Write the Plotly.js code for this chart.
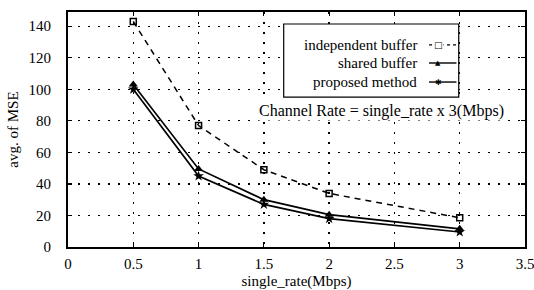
<!DOCTYPE html>
<html><head><meta charset="utf-8">
<script src="https://cdn.plot.ly/plotly-3.0.1.min.js"></script>
<style>html,body{margin:0;padding:0;background:#fff}#c{width:534px;height:290px}</style>
</head><body><div id="c"></div>
<script>
const rates = [0.5, 1, 1.5, 2, 3];
const independentBuffer = [143, 77, 49, 34, 18.5];
const sharedBuffer = [103, 49.5, 30, 20.5, 11.5];
const proposedMethod = [100, 45, 27, 18, 9.5];
const seriesNames = ['independent buffer', 'shared buffer', 'proposed method'];
const xTicks = [0, 0.5, 1, 1.5, 2, 2.5, 3, 3.5];
const yTicks = [0, 20, 40, 60, 80, 100, 120, 140];
const noteText = 'Channel Rate = single_rate x 3(Mbps)';

const F = 'Liberation Serif';
const traces = [
  {x: rates, y: independentBuffer, name: seriesNames[0], mode: 'lines+markers',
   line: {color: '#000', width: 1.5, dash: '6px,5px'},
   marker: {symbol: 'square-open', size: 6, color: '#000', line: {width: 1.5}}},
  {x: rates, y: sharedBuffer, name: seriesNames[1], mode: 'lines+markers',
   line: {color: '#000', width: 1.7},
   marker: {symbol: 'triangle-up', size: 8, color: '#000'}},
  {x: rates, y: proposedMethod, name: seriesNames[2], mode: 'lines+markers',
   line: {color: '#000', width: 1.7},
   marker: {symbol: 'star', size: 8, color: '#000'}}
];

const axisCommon = {
  showline: true, linecolor: '#000', linewidth: 2, mirror: 'ticks',
  ticks: 'inside', ticklen: 4, tickcolor: '#000', tickwidth: 1.2,
  showgrid: true, gridcolor: '#000', gridwidth: 1.3, griddash: '2px,8px',
  zeroline: false, tickfont: {family: F, size: 15, color: '#000'}, ticklabeloverflow: 'allow'
};

// custom legend (text left, sample right), in paper coords
const legX0 = 0.472, legX1 = 0.855, legY0 = 0.638, legY1 = 0.949;
const rowY = [0.86, 0.783, 0.702];
const sampleX0 = 0.79, sampleX1 = 0.85, textX = 0.768, markX = 0.81;
const shapes = [{type: 'rect', xref: 'paper', yref: 'paper', x0: legX0, x1: legX1, y0: legY0, y1: legY1,
  line: {color: '#000', width: 1.2}, fillcolor: '#fff', layer: 'above'}];
const annotations = [];
const sym = ['□', '▲', '✱'];
const symSize = [9, 7, 8];
const dashes = ['3px,3px', 'solid', 'solid'];
seriesNames.forEach((n, i) => {
  annotations.push({xref: 'paper', yref: 'paper', x: textX, y: rowY[i], text: n, showarrow: false,
    xanchor: 'right', yanchor: 'middle', font: {family: F, size: 15, color: '#000'}});
  shapes.push({type: 'line', xref: 'paper', yref: 'paper', x0: sampleX0, x1: sampleX1, y0: rowY[i], y1: rowY[i],
    line: {color: '#000', width: 1.4, dash: dashes[i]}, layer: 'above'});
  annotations.push({xref: 'paper', yref: 'paper', x: markX, y: rowY[i], text: sym[i], showarrow: false,
    xanchor: 'center', yanchor: 'middle', bgcolor: i === 0 ? '#fff' : 'rgba(0,0,0,0)', borderpad: 0,
    font: {family: 'DejaVu Sans', size: symSize[i], color: '#000'}});
});
annotations.push({xref: 'paper', yref: 'paper', x: 0.685, y: 0.579, text: noteText, showarrow: false,
  xanchor: 'center', yanchor: 'middle', font: {family: F, size: 16, color: '#000'}, bgcolor: '#fff', borderpad: 0});

const layout = {
  width: 534, height: 290, margin: {l: 68, r: 9, t: 12, b: 43},
  paper_bgcolor: '#fff', plot_bgcolor: '#fff', showlegend: false,
  font: {family: F, color: '#000'},
  xaxis: Object.assign({}, axisCommon, {range: [0, 3.5], tickvals: xTicks, ticktext: xTicks.map(String),
    ticklabelstandoff: 2,
    title: {text: 'single_rate(Mbps)', font: {family: F, size: 15}, standoff: 4}}),
  yaxis: Object.assign({}, axisCommon, {range: [0, 149], tickvals: yTicks, ticktext: yTicks.map(String),
    ticklabelstandoff: 12,
    title: {text: 'avg. of MSE', font: {family: F, size: 15}, standoff: 6}}),
  shapes: shapes, annotations: annotations
};
Plotly.newPlot('c', traces, layout, {displayModeBar: false, staticPlot: true});
</script></body></html>
